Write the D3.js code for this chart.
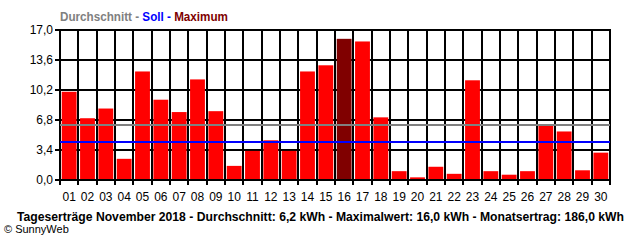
<!DOCTYPE html>
<html>
<head>
<meta charset="utf-8">
<script src="https://cdn.jsdelivr.net/npm/d3@7"></script>
<style>
  body { margin: 0; background: #fff; }
  text { font-family: "Liberation Sans", Arial, sans-serif; }
</style>
</head>
<body>
<div id="chart"></div>
<script>
// Tageserträge November 2018 (kWh)
const days = d3.range(1, 31).map(d => String(d).padStart(2, "0"));
const ertrag = [10.0, 7.0, 8.1, 2.4, 12.3, 9.1, 7.7, 11.4, 7.8, 1.6,
                3.3, 4.5, 3.3, 12.3, 13.0, 16.0, 15.7, 7.1, 1.0, 0.3,
                1.5, 0.7, 11.3, 1.0, 0.6, 1.0, 6.2, 5.5, 1.1, 3.1];
const yTicks = [0, 3.4, 6.8, 10.2, 13.6, 17.0];
const durchschnitt = 6.2;
const soll = 4.3;
const maximum = 16.0;

const width = 640;
const height = 240;
const margin = { top: 30, right: 30, bottom: 60, left: 60 };

const svg = d3.select("#chart").append("svg")
    .attr("width", width)
    .attr("height", height);

const x = d3.scaleBand()
    .domain(days)
    .range([margin.left, width - margin.right])
    .paddingInner(0.19)
    .paddingOuter(0.095);

const y = d3.scaleLinear()
    .domain([0, 17])
    .range([height - margin.bottom, margin.top]);

const fmt = v => d3.format(".1f")(v).replace(".", ",");

// horizontal grid (behind the bars)
svg.selectAll("line.hgrid")
    .data(yTicks)
    .enter().append("line")
    .attr("x1", margin.left - 5)
    .attr("x2", width - margin.right + 1)
    .attr("y1", d => Math.round(y(d)))
    .attr("y2", d => Math.round(y(d)))
    .attr("stroke", "#000")
    .attr("stroke-width", 2);

// vertical grid
const step = x.step();
const bounds = d3.range(0, days.length + 1).map(i => margin.left + i * step);

svg.selectAll("line.vgrid")
    .data(bounds)
    .enter().append("line")
    .attr("x1", d => Math.round(d))
    .attr("x2", d => Math.round(d))
    .attr("y1", y(17) - 1)
    .attr("y2", y(0) + 5)
    .attr("stroke", "#000")
    .attr("stroke-width", 2);

// bars
svg.selectAll("rect.bar")
    .data(ertrag)
    .enter().append("rect")
    .attr("class", "bar")
    .attr("x", (d, i) => x(days[i]))
    .attr("width", x.bandwidth())
    .attr("y", d => y(d))
    .attr("height", d => y(0) - 1 - y(d))
    .attr("fill", d => d === maximum ? "#800000" : "#ff0000");

// durchschnitt + soll
svg.append("line")
    .attr("x1", margin.left).attr("x2", width - margin.right)
    .attr("y1", Math.round(y(durchschnitt)))
    .attr("y2", Math.round(y(durchschnitt)))
    .attr("stroke", "#808080").attr("stroke-width", 2);

svg.append("line")
    .attr("x1", margin.left).attr("x2", width - margin.right)
    .attr("y1", Math.round(y(soll)))
    .attr("y2", Math.round(y(soll)))
    .attr("stroke", "#0000ff").attr("stroke-width", 2);

// y labels
svg.selectAll("text.ylab")
    .data(yTicks)
    .enter().append("text")
    .attr("x", margin.left - 7)
    .attr("y", d => y(d) + 4)
    .attr("text-anchor", "end")
    .attr("font-size", 12)
    .text(d => fmt(d));

// x labels
svg.selectAll("text.xlab")
    .data(days)
    .enter().append("text")
    .attr("x", (d, i) => margin.left + (i + 0.5) * step)
    .attr("y", 201)
    .attr("text-anchor", "middle")
    .attr("font-size", 12)
    .text(d => d);

// legend
const legend = svg.append("text")
    .attr("x", 60)
    .attr("y", 21)
    .attr("font-size", 12)
    .attr("font-weight", "bold")
    .attr("textLength", 168)
    .attr("lengthAdjust", "spacingAndGlyphs");
legend.append("tspan").attr("fill", "#808080").text("Durchschnitt - ");
legend.append("tspan").attr("fill", "#0000ff").text("Soll - ");
legend.append("tspan").attr("fill", "#800000").text("Maximum");

// bottom title
svg.append("text")
    .attr("x", 17)
    .attr("y", 221)
    .attr("font-size", 12)
    .attr("font-weight", "bold")
    .attr("textLength", 607)
    .attr("lengthAdjust", "spacingAndGlyphs")
    .text("Tageserträge November 2018 - Durchschnitt: " + fmt(durchschnitt) +
          " kWh - Maximalwert: " + fmt(maximum) + " kWh - Monatsertrag: 186,0 kWh");

svg.append("text")
    .attr("x", 4)
    .attr("y", 233)
    .attr("font-size", 11)
    .text("© SunnyWeb");
</script>
</body>
</html>
